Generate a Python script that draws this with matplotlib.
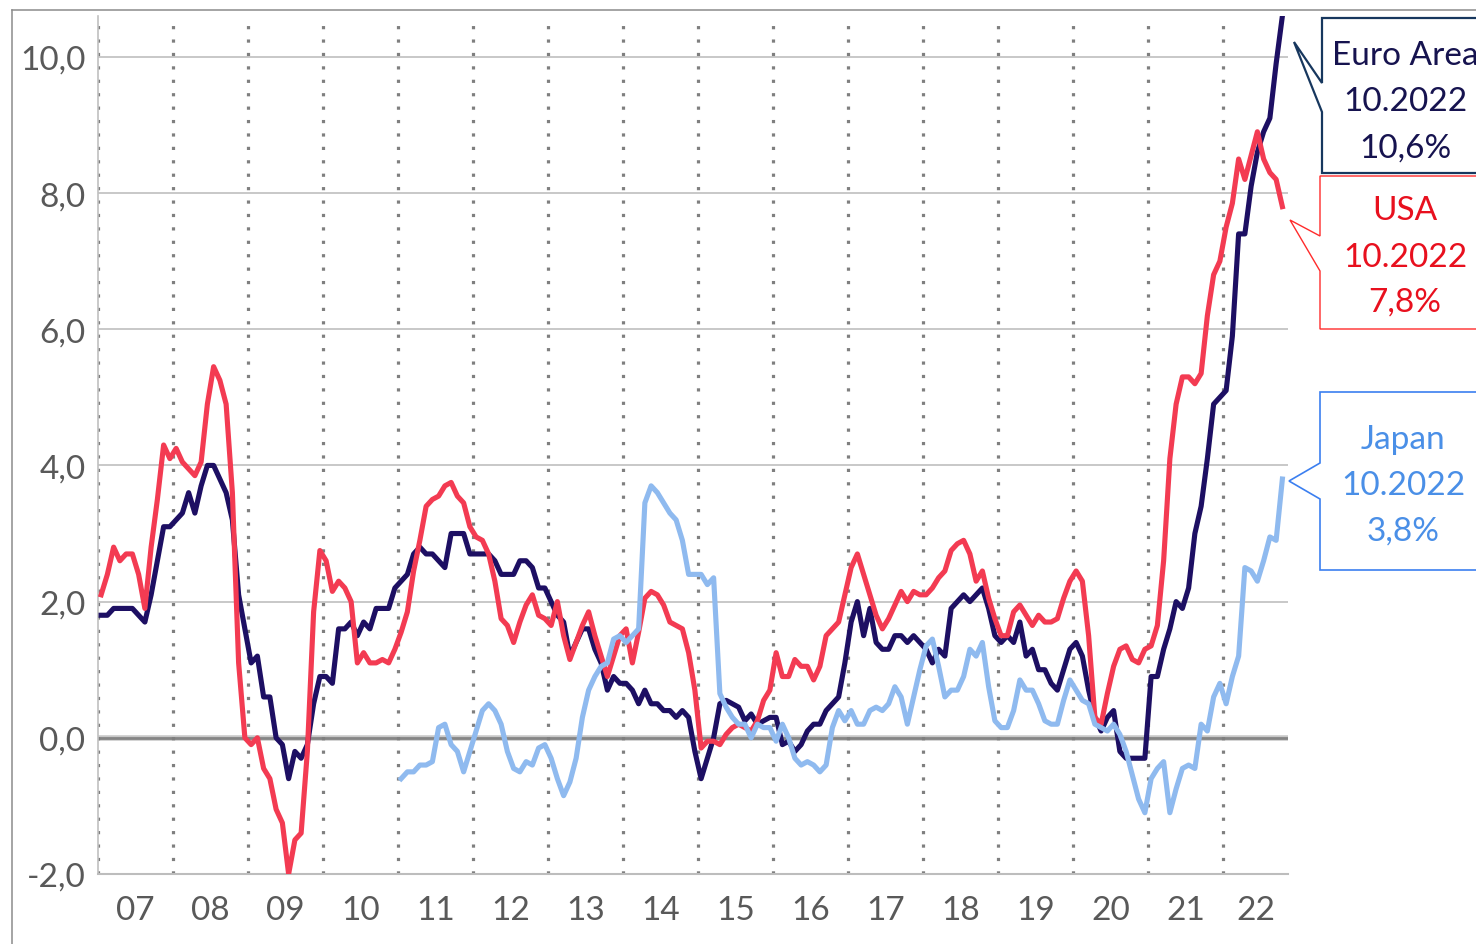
import matplotlib
matplotlib.use("Agg")
import matplotlib.pyplot as plt
from matplotlib.patches import Polygon
import numpy as np

plt.rcParams['font.family'] = ['Lato', 'DejaVu Sans']

# ---------------- data (monthly, y/y %) ----------------
year_labels = ["07", "08", "09", "10", "11", "12", "13", "14", "15",
               "16", "17", "18", "19", "20", "21", "22"]
start_year = 2007
japan_start_year = 2011

# Euro Area, Jan 2007 - Oct 2022
euro_area = [
    1.8, 1.8, 1.9, 1.9, 1.9, 1.9, 1.8, 1.7, 2.1, 2.6, 3.1, 3.1,
    3.2, 3.3, 3.6, 3.3, 3.7, 4.0, 4.0, 3.8, 3.6, 3.2, 2.1, 1.6,
    1.1, 1.2, 0.6, 0.6, 0.0, -0.1, -0.6, -0.2, -0.3, -0.1, 0.5, 0.9,
    0.9, 0.8, 1.6, 1.6, 1.7, 1.5, 1.7, 1.6, 1.9, 1.9, 1.9, 2.2,
    2.3, 2.4, 2.7, 2.8, 2.7, 2.7, 2.6, 2.5, 3.0, 3.0, 3.0, 2.7,
    2.7, 2.7, 2.7, 2.6, 2.4, 2.4, 2.4, 2.6, 2.6, 2.5, 2.2, 2.2,
    2.0, 1.8, 1.7, 1.2, 1.4, 1.6, 1.6, 1.3, 1.1, 0.7, 0.9, 0.8,
    0.8, 0.7, 0.5, 0.7, 0.5, 0.5, 0.4, 0.4, 0.3, 0.4, 0.3, -0.2,
    -0.6, -0.3, 0.0, 0.5, 0.55, 0.5, 0.45, 0.25, 0.35, 0.2, 0.25, 0.3,
    0.3, -0.1, -0.05, -0.2, -0.1, 0.1, 0.2, 0.2, 0.4, 0.5, 0.6, 1.1,
    1.7, 2.0, 1.5, 1.9, 1.4, 1.3, 1.3, 1.5, 1.5, 1.4, 1.5, 1.4,
    1.3, 1.1, 1.3, 1.2, 1.9, 2.0, 2.1, 2.0, 2.1, 2.2, 1.9, 1.5,
    1.4, 1.5, 1.4, 1.7, 1.2, 1.3, 1.0, 1.0, 0.8, 0.7, 1.0, 1.3,
    1.4, 1.2, 0.7, 0.3, 0.1, 0.3, 0.4, -0.2, -0.3, -0.3, -0.3, -0.3,
    0.9, 0.9, 1.3, 1.6, 2.0, 1.9, 2.2, 3.0, 3.4, 4.1, 4.9, 5.0,
    5.1, 5.9, 7.4, 7.4, 8.1, 8.6, 8.9, 9.1, 9.9, 10.6,
]

# USA, Jan 2007 - Oct 2022
usa = [
    2.1, 2.4, 2.8, 2.6, 2.7, 2.7, 2.4, 1.9, 2.8, 3.5, 4.3, 4.1,
    4.25, 4.05, 3.95, 3.85, 4.05, 4.9, 5.45, 5.25, 4.9, 3.6, 1.1, 0.0,
    -0.1, 0.0, -0.45, -0.6, -1.05, -1.25, -2.0, -1.5, -1.4, -0.2, 1.85, 2.75,
    2.6, 2.15, 2.3, 2.2, 2.0, 1.1, 1.25, 1.1, 1.1, 1.15, 1.1, 1.3,
    1.55, 1.85, 2.45, 2.9, 3.4, 3.5, 3.55, 3.7, 3.75, 3.55, 3.45, 3.1,
    2.95, 2.9, 2.7, 2.3, 1.75, 1.65, 1.4, 1.7, 1.95, 2.1, 1.8, 1.75,
    1.65, 2.0, 1.5, 1.15, 1.4, 1.65, 1.85, 1.5, 1.2, 0.9, 1.2, 1.5,
    1.6, 1.1, 1.55, 2.05, 2.15, 2.1, 1.95, 1.7, 1.65, 1.6, 1.25, 0.7,
    -0.15, -0.05, -0.05, -0.1, 0.05, 0.15, 0.2, 0.15, 0.1, 0.25, 0.55, 0.7,
    1.25, 0.9, 0.9, 1.15, 1.05, 1.05, 0.85, 1.05, 1.5, 1.6, 1.7, 2.1,
    2.5, 2.7, 2.4, 2.1, 1.8, 1.6, 1.75, 1.95, 2.15, 2.0, 2.15, 2.1,
    2.1, 2.2, 2.35, 2.45, 2.75, 2.85, 2.9, 2.7, 2.3, 2.45, 2.05, 1.75,
    1.5, 1.5, 1.85, 1.95, 1.8, 1.65, 1.8, 1.7, 1.7, 1.75, 2.05, 2.3,
    2.45, 2.3, 1.5, 0.3, 0.2, 0.65, 1.05, 1.3, 1.35, 1.15, 1.1, 1.3,
    1.35, 1.65, 2.6, 4.1, 4.9, 5.3, 5.3, 5.2, 5.35, 6.2, 6.8, 7.0,
    7.5, 7.85, 8.5, 8.2, 8.55, 8.9, 8.5, 8.3, 8.2, 7.8,
]

# Japan, Jan 2011 - Oct 2022
japan = [
    -0.6, -0.5, -0.5, -0.4, -0.4, -0.35, 0.15, 0.2, -0.1, -0.2, -0.5, -0.2,
    0.1, 0.4, 0.5, 0.4, 0.2, -0.2, -0.45, -0.5, -0.35, -0.4, -0.15, -0.1,
    -0.3, -0.6, -0.85, -0.65, -0.3, 0.3, 0.7, 0.9, 1.05, 1.1, 1.45, 1.5,
    1.4, 1.5, 1.6, 3.45, 3.7, 3.6, 3.45, 3.3, 3.2, 2.9, 2.4, 2.4,
    2.4, 2.25, 2.35, 0.65, 0.45, 0.3, 0.2, 0.2, 0.0, 0.2, 0.15, 0.15,
    -0.05, 0.2, 0.0, -0.3, -0.4, -0.35, -0.4, -0.5, -0.4, 0.15, 0.4, 0.25,
    0.4, 0.2, 0.2, 0.4, 0.45, 0.4, 0.5, 0.75, 0.6, 0.2, 0.6, 1.0,
    1.35, 1.45, 1.05, 0.6, 0.7, 0.7, 0.9, 1.3, 1.2, 1.4, 0.75, 0.25,
    0.15, 0.15, 0.4, 0.85, 0.7, 0.7, 0.5, 0.25, 0.2, 0.2, 0.55, 0.85,
    0.7, 0.55, 0.5, 0.2, 0.15, 0.1, 0.2, 0.05, -0.2, -0.55, -0.9, -1.1,
    -0.6, -0.45, -0.35, -1.1, -0.75, -0.45, -0.4, -0.45, 0.2, 0.1, 0.6, 0.8,
    0.5, 0.9, 1.2, 2.5, 2.45, 2.3, 2.6, 2.95, 2.9, 3.8,
]

y_ticks = [-2, 0, 2, 4, 6, 8, 10]
y_tick_labels = ["-2,0", "0,0", "2,0", "4,0", "6,0", "8,0", "10,0"]
callout_texts = {
    "euro": ["Euro Area", "10.2022", "10,6%"],
    "usa": ["USA", "10.2022", "7,8%"],
    "japan": ["Japan", "10.2022", "3,8%"],
}

# ---------------- styling ----------------
C_EURO = "#1d0f63"
C_USA = "#f33b52"
C_JAPAN = "#8fbaef"
C_TICK = "#595959"
LW = 3.7

W, H = 1476, 945
fig = plt.figure(figsize=(W / 100, H / 100), dpi=100)

# plot area in pixels: x 98..1288, y 17..875
ax = fig.add_axes([98 / W, (H - 875) / H, (1288 - 98) / W, (875 - 17) / H])
x_max = 190.4  # months shown
ax.set_xlim(0, x_max)
ax.set_ylim(-2, 10.6)

x_euro = np.arange(len(euro_area)) + 0.5
x_usa = np.arange(len(usa)) + 0.5
x_japan = np.arange(len(japan)) + 0.5 + 12 * (japan_start_year - start_year)

# grid
for v in y_ticks[2:]:
    ax.axhline(v, color="#c4c4c4", lw=1.3, zorder=1)
ax.axhline(0, color="#c8c8c8", lw=4.0, zorder=2)
ax.axhline(0, color="#858585", lw=2.0, zorder=2)
for k in range(len(year_labels)):
    ax.axvline(12 * k, color="#7f7f7f", lw=2.3, linestyle=(0, (1, 3.2)), zorder=2)

ax.plot(x_euro, euro_area, color=C_EURO, lw=LW, zorder=4)
ax.plot(x_usa, usa, color=C_USA, lw=LW, zorder=5)
ax.plot(x_japan, japan, color=C_JAPAN, lw=LW, zorder=6)

# ticks
xt = [12 * k + 6 for k in range(len(year_labels) - 1)] + [(12 * (len(year_labels) - 1) + x_max) / 2]
ax.set_xticks(xt)
ax.set_xticklabels(year_labels, fontsize=24, color=C_TICK)
ax.set_yticks(y_ticks)
ax.set_yticklabels(y_tick_labels, fontsize=24, color=C_TICK)
ax.tick_params(axis="both", length=0)
ax.tick_params(axis="y", pad=9)
ax.tick_params(axis="x", pad=15)

for s in ["top", "right"]:
    ax.spines[s].set_visible(False)
ax.spines["left"].set_color("#c0c0c0")
ax.spines["left"].set_linewidth(1.2)
ax.spines["bottom"].set_color("#bdbdbd")
ax.spines["bottom"].set_linewidth(1.5)

# ---------------- overlay (frame + callouts) ----------------
ov = fig.add_axes([0, 0, 1, 1], zorder=10)
ov.set_xlim(0, W)
ov.set_ylim(H, 0)
ov.axis("off")
ov.patch.set_alpha(0)

ov.plot([12, 12], [H + 5, 10.5], color="#8c8c8c", lw=1.1)
ov.plot([12, W + 5], [10.5, 10.5], color="#8c8c8c", lw=1.1)

def callout(box_top, box_bottom, left, att1, att2, tip, edge, lw):
    pts = [(left, box_top), (W + 10, box_top), (W + 10, box_bottom),
           (left, box_bottom), (left, att2), tip, (left, att1)]
    ov.add_patch(Polygon(pts, closed=True, facecolor="white",
                         edgecolor=edge, lw=lw, joinstyle="miter"))

callout(19, 174, 1322, 84, 113, (1294, 43), "#17375e", 1.6)
callout(177, 330, 1320, 237, 272, (1290, 221), "#ff2b2b", 1.0)
callout(393, 571, 1320, 464, 500, (1289, 482), "#3b7ff0", 1.2)

def lines(x, ys, texts, color):
    for y, t in zip(ys, texts):
        ov.text(x, y, t, ha="center", va="center", fontsize=24, color=color)

lines(1405, [56, 102, 149], callout_texts["euro"], "#16134f")
lines(1405, [211, 258, 303], callout_texts["usa"], "#e8101e")
lines(1403, [440, 486, 532], callout_texts["japan"], "#4a8fe7")

fig.savefig("out.png", dpi=100)
